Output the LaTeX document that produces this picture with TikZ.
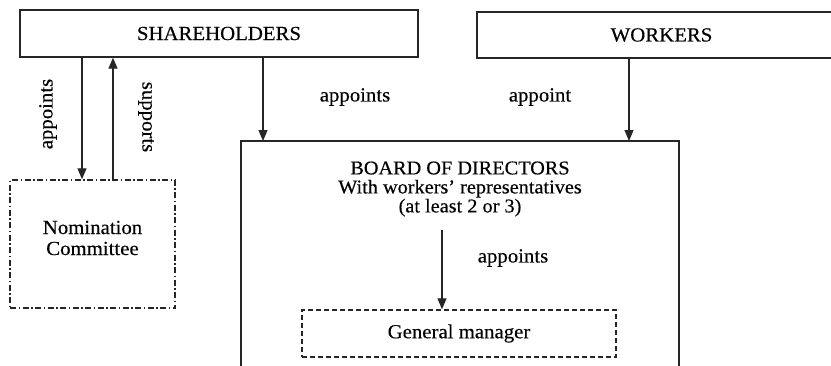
\documentclass[tikz,border=0pt]{standalone}
\usepackage{fontspec}
\setmainfont{Liberation Serif}[FakeStretch=1.04,FakeBold=0.3]
\usetikzlibrary{arrows.meta}
\begin{document}
\begin{tikzpicture}[x=1pt,y=-1pt,
  font=\fontsize{20}{18}\selectfont,
  ink/.style={draw=black!85,line width=1.4pt},
  box/.style={ink,rectangle,inner sep=0pt},
  arr/.style={draw=black!85,line width=1.2pt,-{Triangle[length=11pt,width=9pt]}},
  lbl/.style={inner sep=0pt}]
\useasboundingbox (0,0) rectangle (831,365);
\fill[white] (0,0) rectangle (831,365);

% top level boxes
\node[box,minimum width=398,minimum height=47] (sh) at (219,33.5) {SHAREHOLDERS};
\node[box,minimum width=369,minimum height=46] (wk) at (661.5,35) {WORKERS};

% nomination committee (dash-dot frame)
\node[box,dash pattern=on 6pt off 2.5pt on 1.5pt off 2.5pt,
      minimum width=165,minimum height=128] (nc) at (92.5,244) {};
\node[lbl,align=center,font=\fontsize{20}{21}\selectfont] (nct) at (92.5,238) {Nomination\\Committee};

% board of directors, frame open at the bottom
\coordinate (btl) at (241,141);
\coordinate (btr) at (679,141);
\draw[ink] (241,366) -- (btl) -- (btr) -- (679,366);
\node[lbl,align=center,font=\fontsize{19.5}{19}\selectfont] (bd) at (460,189)
  {BOARD OF DIRECTORS\\With workers' representatives\\(at least 2 or 3)};

% general manager (dashed frame)
\node[box,dash pattern=on 5pt off 3pt,minimum width=314,minimum height=47] (gm) at (459,333.5) {General manager};

% arrow positions
\coordinate (xa) at (82,0);
\coordinate (xs) at (113,0);
\coordinate (xb) at (263,141);
\coordinate (xw) at (629,141);
\coordinate (ga) at (442,230);

\draw[arr] (sh.south -| xa) -- (nc.north -| xa);
\draw[arr] (nc.north -| xs) -- (sh.south -| xs);
\draw[arr] (sh.south -| xb) -- (xb);
\draw[arr] (wk.south -| xw) -- (xw);
\draw[arr] (ga) -- (gm.north -| ga);

% arrow labels
\node[lbl,rotate=90] (l1) at (48,114) {appoints};
\node[lbl,rotate=-90] (l2) at (146,117) {supports};
\node[lbl] (l3) at (355,97) {appoints};
\node[lbl] (l4) at (540,97) {appoint};
\node[lbl] (l5) at (513,258) {appoints};
\end{tikzpicture}
\end{document}
